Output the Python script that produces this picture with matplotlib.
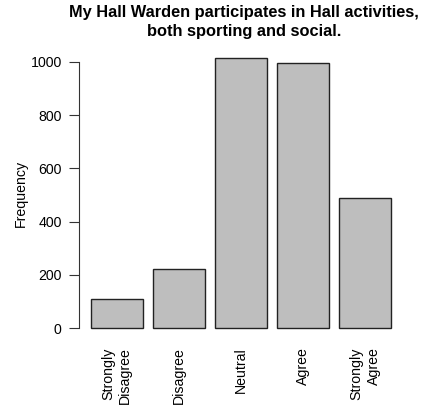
import matplotlib
matplotlib.use("Agg")
import matplotlib.pyplot as plt
import numpy as np

categories = ["Strongly\nDisagree", "Disagree", "Neutral", "Agree", "Strongly\nAgree"]
counts = [109, 222, 1015, 996, 489]
yticks = [0, 200, 400, 600, 800, 1000]

plt.rcParams["font.family"] = ["Liberation Sans", "DejaVu Sans"]

fig = plt.figure(figsize=(4.22, 4.09), dpi=100)
ax = fig.add_axes([79 / 422, 70 / 409, 324 / 422, 292 / 409])

# R-style barplot: width 1, space 0.2
lefts = 0.2 + 1.2 * np.arange(len(counts))
centers = lefts + 0.5
ax.bar(centers, counts, width=1.0, color="#bebebe", edgecolor="#222222", linewidth=1.0)

ax.set_xlim(0.2 - 0.232, 6.0 + 0.232)
ax.set_ylim(-0.04 * max(counts), 1.04 * max(counts))

for s in ["top", "right", "bottom"]:
    ax.spines[s].set_visible(False)
ax.spines["left"].set_bounds(0, 1000)
ax.spines["left"].set_color("#333333")
ax.set_yticks(yticks)
ax.tick_params(axis="y", length=7.5, width=0.8, labelsize=10.2, pad=5, color="#333333")
ax.set_xticks(centers)
ax.set_xticklabels(categories, rotation=90, fontsize=10.2, ha="center", va="top",
                   multialignment="right", linespacing=1.25)
ax.tick_params(axis="x", length=0, pad=6)
ax.set_ylabel("Frequency", fontsize=10.2, labelpad=2)

fig.suptitle("My Hall Warden participates in Hall activities,\nboth sporting and social.",
             fontsize=11.8, fontweight="bold", x=0.578, y=0.988, linespacing=1.35)

fig.savefig("out.png", dpi=100)
